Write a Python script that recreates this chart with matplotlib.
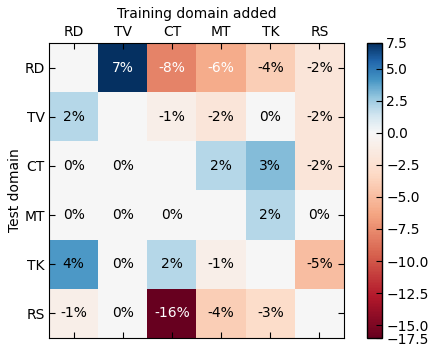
"""
Cross-domain gain heatmap: change in test accuracy when a training domain is added.
"""

import matplotlib
matplotlib.use('Agg')
import matplotlib.pyplot as plt
import numpy as np
from matplotlib.colors import ListedColormap

domains = ['RD', 'TV', 'CT', 'MT', 'TK', 'RS']

# rows: test domain, cols: training domain added (percent change); diagonal empty
gain = np.array([
    [np.nan, 7, -8, -6, -4, -2],
    [2, np.nan, -1, -2, 0, -2],
    [0, 0, np.nan, 2, 3, -2],
    [0, 0, 0, np.nan, 2, 0],
    [4, 0, 2, -1, np.nan, -5],
    [-1, 0, -16, -4, -3, np.nan],
])

vmin, vmax = -16, 7
cbar_pos = [7, 5, 2.5, 0, -2.5, -5, -7.5, -10, -12.5, -15, -16]
cbar_labels = ['7.5', '5.0', '2.5', '0.0', '\u22122.5', '\u22125.0', '\u22127.5',
               '\u221210.0', '\u221212.5', '\u221215.0', '\u221217.5']


def shifted_cmap(name, lo, hi, n=2300):
    """Diverging colormap with its white centre moved to zero."""
    mid = -lo / (hi - lo)
    pos = np.linspace(0, 1, n)
    src = np.where(pos < mid, 0.5 * pos / mid, 0.5 + 0.5 * (pos - mid) / (1 - mid))
    cmap = ListedColormap(plt.get_cmap(name)(src))
    cmap.set_bad(plt.get_cmap(name)(0.5))
    return cmap


cmap = shifted_cmap('RdBu', vmin, vmax)

fig = plt.figure(figsize=(4.36, 3.52), dpi=100)
ax = fig.add_axes([49 / 436, 1 - 338 / 352, 295 / 436, 295 / 352])
cax = fig.add_axes([367 / 436, 1 - 338 / 352, 15 / 436, 295 / 352])

im = ax.imshow(np.ma.masked_invalid(gain), cmap=cmap, vmin=vmin, vmax=vmax,
               interpolation='nearest', aspect='auto')

for i in range(len(domains)):
    for j in range(len(domains)):
        v = gain[i, j]
        if np.isnan(v):
            continue
        ax.text(j, i, f'{v:.0f}%', ha='center', va='center', fontsize=10,
                color='white' if abs(v) > 5 else 'black')

ax.set_xticks(range(len(domains)))
ax.set_yticks(range(len(domains)))
ax.set_xticklabels(domains)
ax.set_yticklabels(domains)
ax.xaxis.set_label_position('top')
ax.tick_params(axis='both', direction='in', top=True, bottom=True, left=True,
               right=True, labeltop=True, labelbottom=False, labelsize=10,
               length=4, pad=3)
ax.set_xlabel('Training domain added', fontsize=10, labelpad=5)
ax.set_ylabel('Test domain', fontsize=10, labelpad=2)

cbar = fig.colorbar(im, cax=cax)
cbar.set_ticks(cbar_pos, labels=cbar_labels)
cbar.ax.tick_params(direction='in', length=4, labelsize=10, pad=3)
cbar.outline.set_linewidth(1.0)

fig.savefig('out.png', dpi=100)
plt.close(fig)
